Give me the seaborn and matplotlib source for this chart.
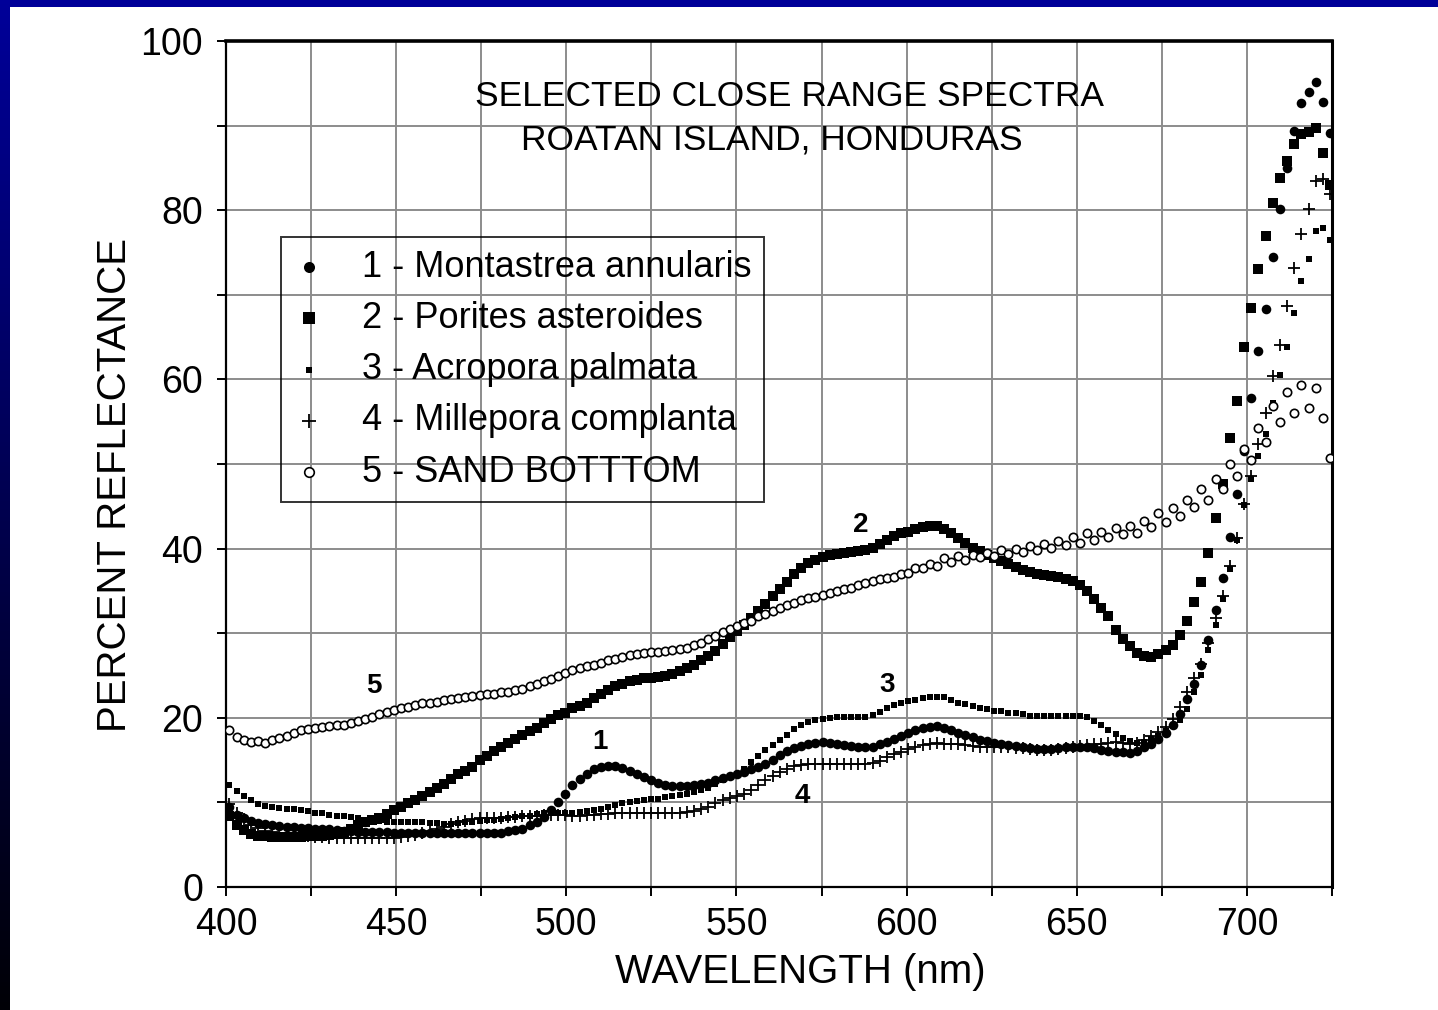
import numpy as np
import matplotlib
matplotlib.use("Agg")
import matplotlib.pyplot as plt
import seaborn as sns
from matplotlib import font_manager
from matplotlib.colors import LinearSegmentedColormap
from matplotlib.patches import Rectangle
from matplotlib.ticker import MultipleLocator

# ---------------------------------------------------------------------------
# Close-range reflectance spectra, Roatan Island (Honduras)
# ---------------------------------------------------------------------------
# spectroradiometer sampling grid (nm)
wavelength = np.round(401.0 + 2.1 * np.arange(155), 1)

montastrea = [
    9.5, 8.5, 8.1, 7.8, 7.6, 7.45, 7.35, 7.25, 7.15, 7.05,
    7.0, 6.95, 6.9, 6.85, 6.8, 6.7, 6.65, 6.6, 6.55, 6.5,
    6.5, 6.45, 6.45, 6.4, 6.4, 6.4, 6.4, 6.4, 6.4, 6.4,
    6.4, 6.4, 6.4, 6.4, 6.4, 6.4, 6.4, 6.4, 6.4, 6.6,
    6.7, 6.9, 7.3, 7.7, 8.3, 9.1, 10.0, 11.0, 12.1, 12.8,
    13.4, 13.9, 14.2, 14.35, 14.25, 14.05, 13.75, 13.4, 13.0, 12.6,
    12.3, 12.05, 11.95, 11.9, 11.95, 12.05, 12.15, 12.35, 12.6, 12.85,
    13.1, 13.3, 13.6, 13.9, 14.2, 14.55, 15.05, 15.55, 16.05, 16.45,
    16.7, 16.9, 17.05, 17.1, 17.0, 16.9, 16.8, 16.7, 16.6, 16.55,
    16.6, 16.85, 17.1, 17.5, 17.85, 18.2, 18.5, 18.75, 18.95, 19.0,
    18.8, 18.5, 18.2, 17.95, 17.7, 17.4, 17.2, 17.0, 16.85, 16.75,
    16.65, 16.55, 16.45, 16.35, 16.3, 16.35, 16.45, 16.55, 16.6, 16.6,
    16.6, 16.45, 16.25, 16.1, 16.0, 16.0, 15.8, 16.1, 16.5, 16.9,
    17.5, 18.2, 19.1, 20.4, 22.2, 24.0, 26.2, 29.2, 32.8, 36.5,
    41.4, 46.4, 51.5, 57.8, 63.3, 68.3, 74.5, 80.2, 85.0, 89.4,
    92.7, 94.0, 95.2, 92.8, 89.1,
]

porites = [
    8.4, 7.3, 6.7, 6.3, 6.05, 6.0, 5.95, 5.95, 5.95, 5.95,
    5.95, 6.0, 6.0, 6.05, 6.15, 6.3, 6.55, 6.9, 7.3, 7.65,
    7.9, 8.15, 8.6, 9.1, 9.5, 9.9, 10.3, 10.8, 11.25, 11.7,
    12.2, 12.75, 13.3, 13.75, 14.2, 15.0, 15.5, 16.05, 16.55, 17.0,
    17.45, 17.95, 18.4, 18.85, 19.35, 19.85, 20.3, 20.6, 21.1, 21.45,
    21.8, 22.3, 22.8, 23.25, 23.7, 24.05, 24.35, 24.5, 24.65, 24.7,
    24.8, 25.0, 25.2, 25.5, 25.85, 26.3, 26.8, 27.35, 27.95, 28.7,
    29.55, 30.3, 30.95, 31.8, 32.6, 33.4, 34.4, 35.25, 36.1, 36.95,
    37.7, 38.3, 38.7, 39.0, 39.3, 39.4, 39.5, 39.6, 39.7, 39.85,
    40.05, 40.5, 41.0, 41.5, 41.8, 42.0, 42.35, 42.55, 42.7, 42.65,
    42.35, 41.8, 41.25, 40.65, 40.1, 39.7, 39.3, 38.9, 38.5, 38.2,
    37.8, 37.5, 37.25, 37.0, 36.85, 36.75, 36.65, 36.45, 36.2, 35.7,
    35.0, 34.1, 33.0, 32.0, 30.4, 29.35, 28.5, 27.7, 27.35, 27.2,
    27.6, 28.0, 28.6, 29.8, 31.5, 33.7, 36.1, 39.5, 43.6, 47.6,
    53.1, 57.5, 63.8, 68.4, 73.0, 76.9, 80.9, 83.8, 85.8, 87.8,
    89.0, 89.2, 89.7, 86.8, 83.0,
]

acropora = [
    12.0, 11.3, 10.7, 10.25, 9.85, 9.6, 9.45, 9.35, 9.25, 9.25,
    9.15, 8.95, 8.8, 8.7, 8.55, 8.4, 8.35, 8.25, 8.2, 7.95,
    7.8, 7.75, 7.7, 7.7, 7.7, 7.7, 7.7, 7.65, 7.6, 7.6,
    7.5, 7.5, 7.55, 7.65, 7.7, 7.8, 7.9, 7.95, 8.0, 8.15,
    8.3, 8.35, 8.4, 8.6, 8.75, 8.7, 8.7, 8.75, 8.8, 8.9,
    8.95, 9.1, 9.25, 9.45, 9.7, 9.95, 10.05, 10.15, 10.25, 10.35,
    10.45, 10.6, 10.75, 10.9, 11.05, 11.2, 11.45, 11.75, 12.15, 12.6,
    13.0, 13.4, 13.95, 14.8, 15.45, 16.15, 16.8, 17.4, 18.0, 18.65,
    19.2, 19.5, 19.7, 19.85, 20.0, 20.1, 20.1, 20.1, 20.1, 20.15,
    20.35, 20.7, 21.15, 21.5, 21.7, 21.95, 22.15, 22.35, 22.4, 22.4,
    22.4, 22.1, 21.8, 21.6, 21.4, 21.2, 21.0, 20.8, 20.75, 20.6,
    20.55, 20.4, 20.25, 20.2, 20.2, 20.2, 20.2, 20.2, 20.2, 20.2,
    20.05, 19.6, 19.2, 18.6, 18.1, 17.6, 17.2, 17.0, 17.15, 17.5,
    17.9, 18.4, 19.0, 19.7, 21.0, 23.0, 25.1, 28.0, 31.0, 34.0,
    37.6, 41.0, 45.2, 48.2, 50.9, 53.5, 57.2, 60.5, 63.8, 67.8,
    71.6, 74.2, 77.6, 77.9, 76.5,
]

millepora = [
    9.8, 8.8, 8.0, 7.35, 6.95, 6.65, 6.45, 6.3, 6.2, 6.1,
    6.05, 6.0, 5.95, 5.9, 5.85, 5.8, 5.8, 5.8, 5.8, 5.8,
    5.8, 5.8, 5.8, 5.85, 5.9, 6.0, 6.15, 6.35, 6.6, 6.85,
    7.1, 7.4, 7.65, 7.85, 8.0, 8.1, 8.15, 8.2, 8.2, 8.25,
    8.3, 8.35, 8.4, 8.45, 8.5, 8.5, 8.5, 8.5, 8.45, 8.45,
    8.5, 8.55, 8.6, 8.65, 8.7, 8.75, 8.8, 8.8, 8.8, 8.8,
    8.75, 8.7, 8.7, 8.75, 8.85, 9.0, 9.2, 9.45, 9.9, 10.25,
    10.55, 10.8, 11.0, 11.45, 12.0, 12.6, 13.15, 13.55, 13.95, 14.3,
    14.45, 14.5, 14.5, 14.5, 14.5, 14.5, 14.5, 14.5, 14.5, 14.5,
    14.6, 14.9, 15.35, 15.75, 15.95, 16.35, 16.55, 16.8, 16.9, 17.0,
    16.95, 16.9, 16.85, 16.75, 16.65, 16.6, 16.6, 16.6, 16.55, 16.5,
    16.45, 16.4, 16.3, 16.25, 16.2, 16.25, 16.35, 16.45, 16.55, 16.65,
    16.75, 16.85, 16.95, 17.05, 17.1, 17.0, 16.9, 17.0, 17.4, 17.8,
    18.3, 18.9, 19.8, 21.3, 23.0, 24.7, 26.4, 28.9, 31.8, 34.4,
    38.0, 41.2, 45.3, 48.6, 52.4, 56.0, 60.4, 64.1, 68.7, 73.2,
    77.2, 80.1, 83.5, 83.7, 81.9,
]

sand = [
    18.5, 17.7, 17.4, 17.1, 17.2, 17.0, 17.4, 17.6, 17.9, 18.2,
    18.5, 18.7, 18.8, 18.9, 19.0, 19.1, 19.2, 19.4, 19.6, 19.8,
    20.1, 20.4, 20.7, 20.9, 21.1, 21.3, 21.5, 21.7, 21.75, 21.9,
    22.05, 22.2, 22.3, 22.4, 22.55, 22.7, 22.8, 22.85, 23.0, 23.05,
    23.25, 23.4, 23.75, 24.0, 24.3, 24.6, 25.0, 25.3, 25.7, 25.85,
    26.1, 26.3, 26.5, 26.8, 27.0, 27.2, 27.4, 27.55, 27.65, 27.75,
    27.8, 27.9, 28.0, 28.1, 28.3, 28.6, 28.9, 29.3, 29.7, 30.1,
    30.5, 30.85, 31.2, 31.5, 32.0, 32.3, 32.6, 33.0, 33.3, 33.6,
    33.9, 34.15, 34.3, 34.55, 34.75, 34.95, 35.2, 35.4, 35.65, 35.9,
    36.2, 36.35, 36.55, 36.7, 37.0, 37.15, 37.7, 37.65, 38.2, 37.9,
    38.9, 38.45, 39.1, 38.7, 39.3, 39.05, 39.5, 39.1, 39.8, 39.35,
    40.0, 39.55, 40.25, 39.8, 40.5, 40.05, 40.9, 40.4, 41.4, 40.7,
    41.8, 41.05, 42.0, 41.35, 42.4, 41.67, 42.7, 41.9, 43.3, 42.6,
    44.2, 43.1, 44.8, 43.9, 45.8, 44.9, 47.0, 45.8, 48.2, 47.0,
    50.0, 48.6, 51.8, 50.5, 54.2, 52.6, 56.8, 55.0, 58.5, 56.0,
    59.3, 56.6, 59.0, 55.4, 50.75,
]

series_labels = [
    "1 - Montastrea annularis",
    "2 - Porites asteroides",
    "3 - Acropora palmata",
    "4 - Millepora complanta",
    "5 - SAND BOTTTOM",
]

# curve numbers written next to the spectra: (label, wavelength, reflectance)
curve_tags = [("1", 510.0, 17.1), ("2", 586.5, 42.8), ("3", 594.4, 23.9),
              ("4", 569.4, 10.8), ("5", 443.5, 23.8)]

title_lines = [("SELECTED CLOSE RANGE SPECTRA", 565.6, 93.4),
               ("ROATAN ISLAND, HONDURAS", 560.3, 88.3)]

# ---------------------------------------------------------------------------
sns.set_style("white")


def font_available(name):
    try:
        font_manager.findfont(font_manager.FontProperties(family=name),
                              fallback_to_default=False)
        return True
    except ValueError:
        return False


plt.rcParams["font.family"] = ["Liberation Sans", "DejaVu Sans"]
for key in ("text.color", "axes.labelcolor", "xtick.color", "ytick.color",
            "xtick.labelcolor", "ytick.labelcolor"):
    plt.rcParams[key] = "black"

narrow = font_available("Liberation Sans Narrow")
label_family = ["Liberation Sans Narrow", "Liberation Sans"] if narrow else ["Liberation Sans"]
label_size = 35 if narrow else 29
title_size = 30.5 if narrow else 25.5

fig = plt.figure(figsize=(14.38, 10.10), dpi=100, facecolor="white")

# slide frame: dark blue band on top, blue-to-black strip on the left
fig.add_artist(Rectangle((0, 1 - 7 / 1010), 1, 7 / 1010, transform=fig.transFigure,
                         facecolor="#000099", edgecolor="none", zorder=0))
strip = fig.add_axes([0, 0, 10 / 1438, 1])
edge_cmap = LinearSegmentedColormap.from_list("edge", ["#000099", "#000006"])
strip.imshow(np.linspace(0, 1, 256).reshape(-1, 1), aspect="auto", cmap=edge_cmap,
             extent=[0, 1, 0, 1], origin="upper")
strip.set_axis_off()

ax = fig.add_axes([226 / 1438, 123 / 1010, 1106 / 1438, 846 / 1010])
ax.set_facecolor("white")

# drawing order: squares below, then dots, crosses and open circles on top
sns.scatterplot(x=wavelength, y=porites, marker="s", s=52, color="black",
                linewidth=0, ax=ax, label=series_labels[1], zorder=3)
sns.scatterplot(x=wavelength, y=acropora, marker="s", s=17, color="black",
                linewidth=0, ax=ax, label=series_labels[2], zorder=3)
sns.scatterplot(x=wavelength, y=montastrea, marker="o", s=48, color="black",
                linewidth=0, ax=ax, label=series_labels[0], zorder=3)
sns.scatterplot(x=wavelength, y=millepora, marker="+", s=70, color="black",
                linewidth=1.3, ax=ax, label=series_labels[3], zorder=3)
sns.scatterplot(x=wavelength, y=sand, marker="o", s=36, color="white",
                edgecolor="black", linewidth=1.2, ax=ax, label=series_labels[4], zorder=3)

ax.set_xlim(400, 725)
ax.set_ylim(0, 100)
ax.xaxis.set_major_locator(MultipleLocator(50))
ax.xaxis.set_minor_locator(MultipleLocator(25))
ax.yaxis.set_major_locator(MultipleLocator(20))
ax.yaxis.set_minor_locator(MultipleLocator(10))
ax.grid(True, which="both", color="#8c8c8c", linewidth=1.4)
ax.set_axisbelow(True)

ax.tick_params(which="both", direction="out", length=6.5, width=1.4, color="black",
               labelcolor="black", left=True, bottom=True, right=False, top=False)
ax.tick_params(axis="y", which="major", labelsize=27, pad=10)
ax.tick_params(axis="x", which="major", labelsize=27, pad=8)

for side, lw in [("left", 1.6), ("bottom", 1.6), ("right", 2.2), ("top", 2.6)]:
    ax.spines[side].set_visible(True)
    ax.spines[side].set_color("black")
    ax.spines[side].set_linewidth(lw)

ax.set_xlabel("WAVELENGTH (nm)", family=label_family, fontsize=label_size, color="black")
ax.set_ylabel("PERCENT REFLECTANCE", family=label_family, fontsize=label_size, color="black")
ax.xaxis.set_label_coords(0.519, -0.078)
ax.yaxis.set_label_coords(-0.0836, 0.475)

for text, x, y in title_lines:
    ax.text(x, y, text, ha="center", va="center", fontsize=title_size,
            family=label_family, color="black", zorder=5)

for tag, x, y in curve_tags:
    ax.text(x, y, tag, ha="center", va="center", fontsize=20, fontweight="bold",
            color="black", zorder=5)

# legend in series order, transparent so the grid shows through
handles, labels = ax.get_legend_handles_labels()
order = [labels.index(lbl) for lbl in series_labels]
leg = ax.legend([handles[i] for i in order], [labels[i] for i in order],
                loc="upper left", bbox_to_anchor=(0.0497, 0.7683), borderaxespad=0,
                frameon=True, fancybox=False, edgecolor="black", facecolor="none",
                fontsize=26, handlelength=0.85, handletextpad=1.04, borderpad=0.35,
                labelspacing=0.45, scatterpoints=1, markerscale=1.15,
                labelcolor="black")
leg.get_frame().set_linewidth(1.4)
leg.set_zorder(6)

fig.savefig("out.png", dpi=100, facecolor="white")
